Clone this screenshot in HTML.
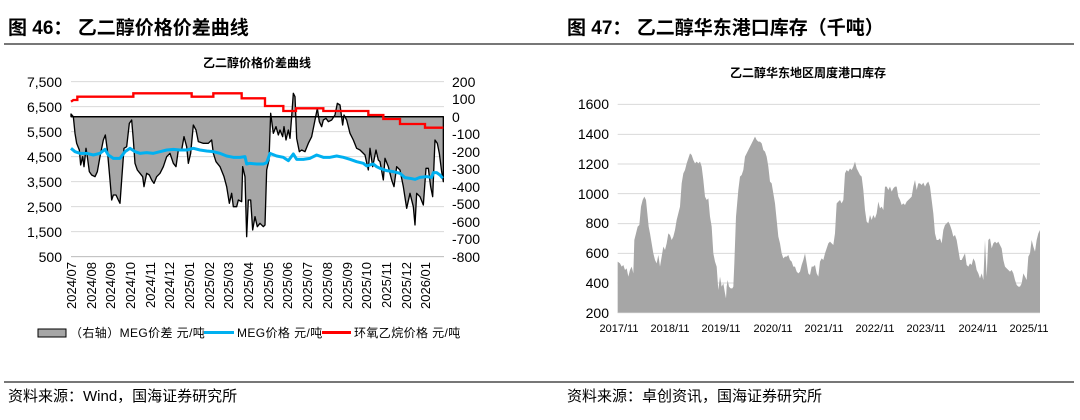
<!DOCTYPE html>
<html><head><meta charset="utf-8"><style>
html,body{margin:0;padding:0;background:#fff;}
body{width:1080px;height:415px;overflow:hidden;font-family:"Liberation Sans","Noto Sans CJK SC",sans-serif;}
</style></head><body>
<svg width="1080" height="415" viewBox="0 0 1080 415" xmlns="http://www.w3.org/2000/svg" font-family="Liberation Sans, Noto Sans CJK SC, sans-serif">
<text x="8" y="34" font-size="19" font-weight="bold" fill="#000">图 46：  乙二醇价格价差曲线</text>
<text x="567" y="34" font-size="19" font-weight="bold" fill="#000">图 47：  乙二醇华东港口库存（千吨）</text>
<rect x="4" y="43" width="1070" height="2" fill="#777"/>
<rect x="4" y="381" width="1070" height="2" fill="#777"/>
<text x="8" y="401" font-size="15" fill="#000">资料来源：Wind，国海证券研究所</text>
<text x="567" y="401" font-size="15" fill="#000">资料来源：卓创资讯，国海证券研究所</text>

<!-- Left chart -->
<text x="257" y="67" font-size="12" font-weight="bold" text-anchor="middle">乙二醇价格价差曲线</text>
<g transform="translate(0,40) scale(0.33333)">
<g stroke="#d9d9d9" stroke-width="3">
<line x1="213" y1="125" x2="1332" y2="125"/><line x1="213" y1="200" x2="1332" y2="200"/><line x1="213" y1="275" x2="1332" y2="275"/><line x1="213" y1="350" x2="1332" y2="350"/><line x1="213" y1="425" x2="1332" y2="425"/><line x1="213" y1="500" x2="1332" y2="500"/><line x1="213" y1="575" x2="1332" y2="575"/><line x1="213" y1="650" x2="1332" y2="650"/>
</g>
<polygon fill="#a6a6a6" stroke="#000" stroke-width="4" stroke-linejoin="round" points="213,230 213,222 220,230 225,280 230,310 238,330 242,375 248,350 252,380 258,325 262,350 268,395 275,405 285,410 292,395 300,350 310,300 316,285 322,330 330,420 335,480 340,465 348,465 355,480 360,490 365,420 372,325 380,320 388,250 395,240 400,300 405,370 412,390 420,400 428,410 432,440 440,400 448,405 455,420 462,430 470,410 480,400 490,380 500,350 510,340 520,370 528,380 535,330 545,330 552,290 560,320 565,370 572,340 580,255 588,270 595,305 610,310 625,310 635,300 640,340 648,365 660,380 672,410 680,440 688,490 695,460 700,500 710,500 715,480 725,485 728,380 735,410 740,590 745,480 752,480 758,570 765,530 772,560 780,550 790,560 795,555 800,390 807,360 812,220 820,280 828,260 835,285 840,270 848,290 852,260 858,300 865,270 870,295 875,230 880,160 885,170 890,295 898,335 905,330 915,335 925,310 935,290 945,240 952,205 958,245 965,260 970,240 978,235 985,245 995,240 1005,225 1012,190 1020,195 1028,255 1032,225 1040,240 1050,280 1060,300 1070,325 1080,330 1095,345 1105,390 1110,325 1118,380 1128,330 1135,360 1140,365 1150,420 1155,355 1165,380 1175,420 1182,440 1190,380 1200,390 1210,440 1220,505 1230,460 1240,500 1245,555 1250,460 1260,470 1270,495 1278,385 1285,385 1292,440 1298,470 1305,300 1312,310 1318,340 1325,395 1330,425 1330,230"/>
<line x1="213" y1="230" x2="1330" y2="230" stroke="#000" stroke-width="4"/>
<polyline fill="none" stroke="#00b0f0" stroke-width="9" stroke-linejoin="round" points="213,325 225,335 240,340 260,340 280,345 300,340 315,328 325,345 340,355 360,355 375,335 390,325 405,335 420,340 440,338 460,340 480,335 500,330 520,328 540,330 560,330 580,325 600,330 620,333 640,335 660,340 680,348 700,352 720,352 735,350 740,372 750,370 770,372 790,372 800,368 810,340 830,348 850,352 865,362 880,342 890,358 910,358 930,355 950,345 970,352 990,352 1010,348 1030,352 1050,358 1070,365 1090,370 1100,378 1110,375 1120,372 1130,380 1140,385 1160,392 1180,395 1200,400 1215,413 1230,415 1245,418 1260,412 1280,410 1295,412 1300,398 1310,398 1320,405 1328,415"/>
<polyline fill="none" stroke="#ff0000" stroke-width="7" points="213,185 220,180 232,180 232,170 400,170 400,160 575,160 575,170 640,170 640,160 725,160 725,175 795,175 795,198 850,198 850,213 888,213 888,205 970,205 970,213 1105,213 1105,225 1150,225 1150,237 1200,237 1200,252 1275,252 1275,263 1330,263"/>
<line x1="213" y1="650" x2="1332" y2="650" stroke="#bfbfbf" stroke-width="3"/>
</g>
<g font-size="14" text-anchor="end" fill="#000">
<text x="62" y="87">7,500</text><text x="62" y="112">6,500</text><text x="62" y="137">5,500</text><text x="62" y="162">4,500</text><text x="62" y="187">3,500</text><text x="62" y="212">2,500</text><text x="62" y="237">1,500</text><text x="62" y="262">500</text>
</g>
<g font-size="14" text-anchor="start" fill="#000">
<text x="452" y="87">200</text><text x="452" y="104">100</text><text x="452" y="122">0</text><text x="452" y="139">-100</text><text x="452" y="157">-200</text><text x="452" y="174">-300</text><text x="452" y="192">-400</text><text x="452" y="209">-500</text><text x="452" y="227">-600</text><text x="452" y="244">-700</text><text x="452" y="262">-800</text>
</g>
<g font-size="13" text-anchor="end" fill="#000">
<text transform="translate(76,262) rotate(-90)">2024/07</text>
<text transform="translate(96,262) rotate(-90)">2024/08</text>
<text transform="translate(115,262) rotate(-90)">2024/09</text>
<text transform="translate(135,262) rotate(-90)">2024/10</text>
<text transform="translate(155,262) rotate(-90)">2024/11</text>
<text transform="translate(174,262) rotate(-90)">2024/12</text>
<text transform="translate(194,262) rotate(-90)">2025/01</text>
<text transform="translate(214,262) rotate(-90)">2025/02</text>
<text transform="translate(233,262) rotate(-90)">2025/03</text>
<text transform="translate(253,262) rotate(-90)">2025/04</text>
<text transform="translate(273,262) rotate(-90)">2025/05</text>
<text transform="translate(292,262) rotate(-90)">2025/06</text>
<text transform="translate(312,262) rotate(-90)">2025/07</text>
<text transform="translate(332,262) rotate(-90)">2025/08</text>
<text transform="translate(352,262) rotate(-90)">2025/09</text>
<text transform="translate(371,262) rotate(-90)">2025/10</text>
<text transform="translate(391,262) rotate(-90)">2025/11</text>
<text transform="translate(411,262) rotate(-90)">2025/12</text>
<text transform="translate(430,262) rotate(-90)">2026/01</text>
</g>
<rect x="38" y="329" width="28" height="8" fill="#a6a6a6" stroke="#000" stroke-width="1"/>
<text x="70" y="337" font-size="12" letter-spacing="0.4">（右轴）MEG价差  元/吨</text>
<rect x="204" y="331" width="30" height="3" fill="#00b0f0"/>
<text x="237" y="337" font-size="12" letter-spacing="0.4">MEG价格  元/吨</text>
<rect x="322" y="331" width="29" height="3" fill="#ff0000"/>
<text x="354" y="337" font-size="12" letter-spacing="0.4">环氧乙烷价格  元/吨</text>

<!-- Right chart -->
<text x="808" y="77" font-size="12" font-weight="bold" text-anchor="middle">乙二醇华东地区周度港口库存</text>
<g transform="translate(560,40) scale(0.33333)">
<g stroke="#d9d9d9" stroke-width="3">
<line x1="173" y1="193" x2="1440" y2="193"/><line x1="173" y1="283" x2="1440" y2="283"/><line x1="173" y1="372" x2="1440" y2="372"/><line x1="173" y1="461" x2="1440" y2="461"/><line x1="173" y1="551" x2="1440" y2="551"/><line x1="173" y1="640" x2="1440" y2="640"/><line x1="173" y1="729" x2="1440" y2="729"/>
</g>
<polygon fill="#a6a6a6" points="173,665 180,670 185,680 190,675 195,690 200,685 205,710 210,690 215,680 220,700 223,600 228,580 233,560 238,555 243,500 248,480 253,470 258,480 262,520 266,560 270,580 275,610 280,640 285,660 290,670 295,645 300,680 305,650 310,620 315,630 320,610 325,580 330,585 335,600 340,590 345,570 350,540 355,520 360,500 365,430 370,400 375,390 380,370 385,355 390,340 395,345 400,360 405,370 410,365 415,370 420,365 425,380 430,420 435,470 440,480 445,475 450,530 455,560 460,640 465,665 470,680 475,750 480,710 485,740 490,730 495,760 498,775 500,740 503,720 507,740 512,745 517,745 520,740 523,670 528,530 535,450 540,410 545,405 550,390 555,350 560,340 565,330 570,320 575,310 580,300 585,290 590,300 595,305 600,305 605,310 610,330 615,335 620,350 625,380 630,425 635,430 640,460 645,490 650,540 655,590 660,610 665,640 670,655 675,650 680,650 685,645 690,660 695,665 700,680 705,680 710,695 715,700 720,695 725,675 730,660 735,640 740,670 745,700 750,705 755,680 760,680 765,675 770,700 775,710 780,665 785,655 790,660 795,640 800,625 805,610 810,605 815,610 820,615 825,580 830,490 835,485 840,480 845,490 850,480 855,400 860,390 865,395 870,385 875,390 880,380 885,365 890,385 895,395 900,405 905,410 910,450 915,510 920,545 925,550 930,525 935,540 940,525 945,535 950,520 955,485 960,505 965,500 970,510 975,440 980,440 985,450 990,440 995,455 1000,445 1005,440 1010,440 1015,470 1020,480 1025,495 1030,490 1035,495 1040,485 1045,480 1050,475 1055,470 1060,440 1065,420 1070,450 1075,430 1080,430 1085,435 1090,428 1095,440 1100,430 1105,425 1110,440 1115,480 1120,520 1125,580 1130,600 1135,600 1140,595 1145,610 1150,570 1155,555 1160,550 1165,545 1170,555 1175,570 1180,590 1185,585 1190,600 1195,630 1200,660 1205,660 1210,650 1215,640 1220,675 1225,680 1230,670 1235,675 1240,655 1245,665 1250,690 1255,700 1260,715 1265,700 1270,720 1275,600 1280,710 1285,600 1290,595 1295,625 1300,610 1305,605 1310,610 1315,605 1320,615 1325,625 1330,660 1335,680 1340,685 1345,690 1350,695 1355,690 1360,700 1365,720 1370,735 1375,740 1380,740 1385,730 1390,700 1395,710 1400,720 1405,650 1410,640 1415,600 1420,620 1425,635 1430,600 1435,580 1440,570 1440,818 173,818"/>
<line x1="173" y1="818" x2="1440" y2="818" stroke="#bfbfbf" stroke-width="3"/>
</g>
<g font-size="14" text-anchor="end" fill="#000">
<text x="609" y="109">1600</text><text x="609" y="139">1400</text><text x="609" y="169">1200</text><text x="609" y="199">1000</text><text x="609" y="228">800</text><text x="609" y="258">600</text><text x="609" y="288">400</text><text x="609" y="318">200</text>
</g>
<g font-size="11" text-anchor="middle" fill="#000">
<text x="619" y="332">2017/11</text><text x="670" y="332">2018/11</text><text x="721" y="332">2019/11</text><text x="773" y="332">2020/11</text><text x="824" y="332">2021/11</text><text x="875" y="332">2022/11</text><text x="926" y="332">2023/11</text><text x="978" y="332">2024/11</text><text x="1029" y="332">2025/11</text>
</g>
</svg>
</body></html>
